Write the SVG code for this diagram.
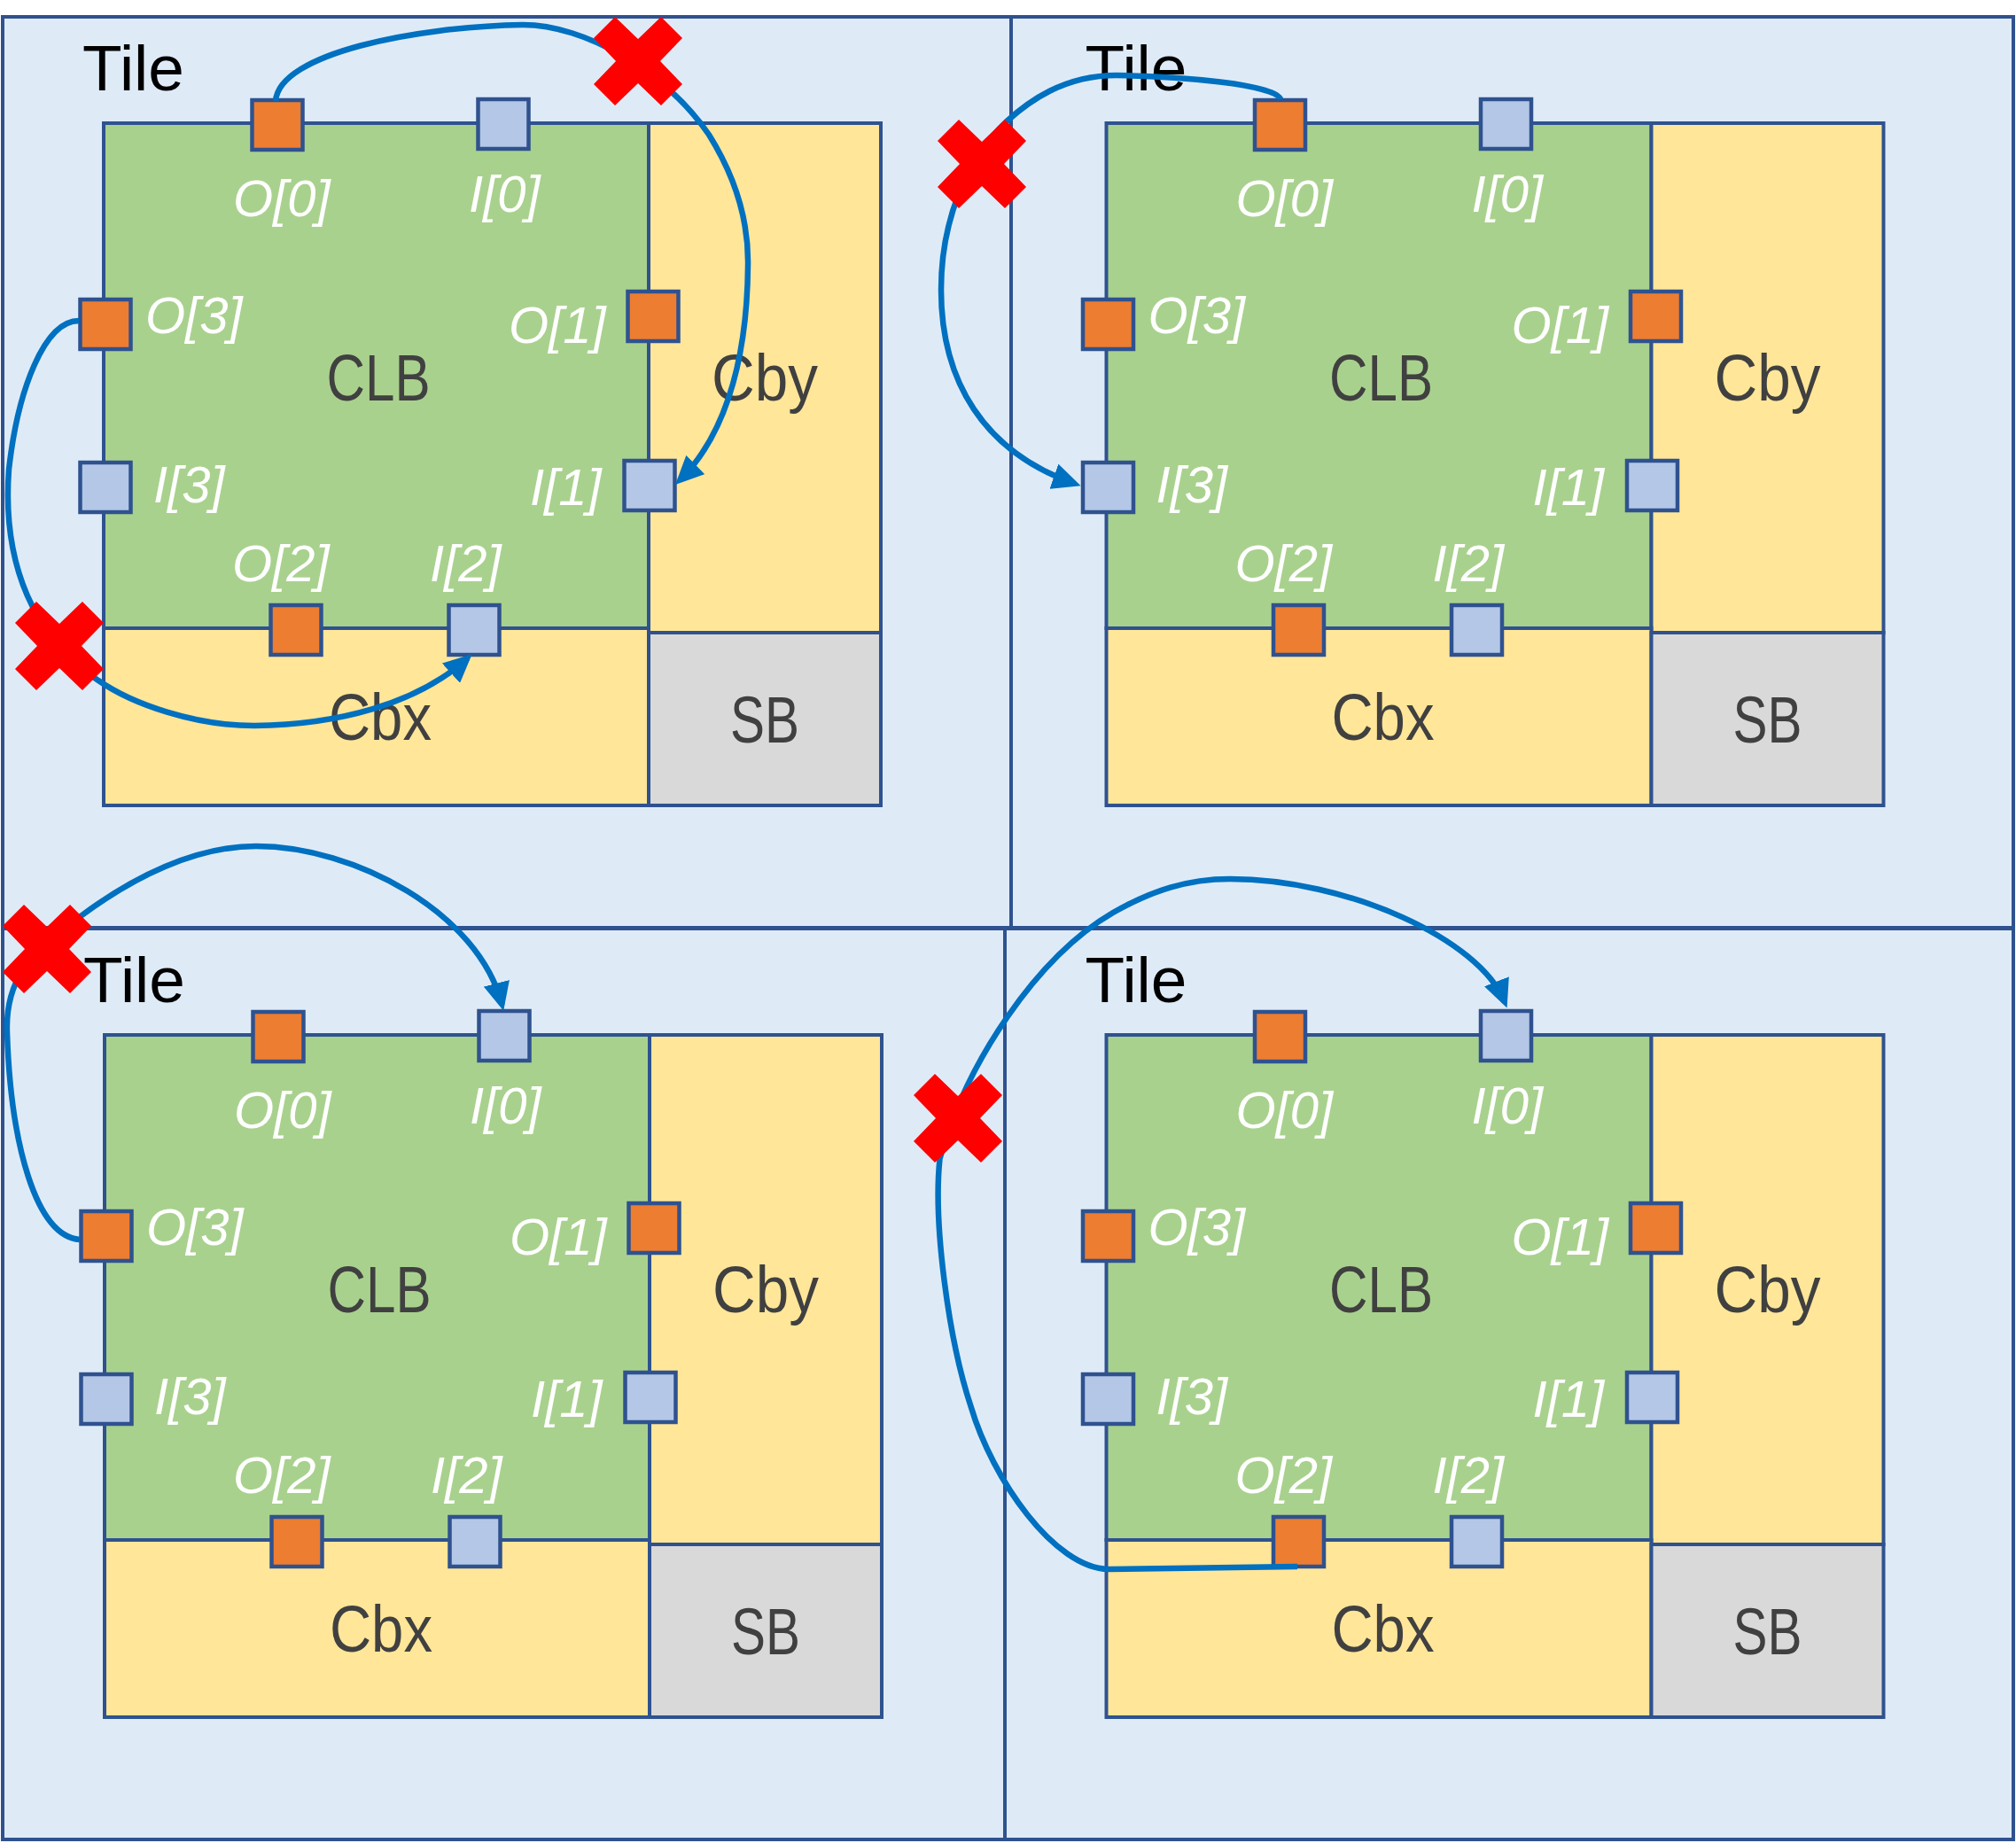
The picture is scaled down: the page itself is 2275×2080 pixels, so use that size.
<svg xmlns="http://www.w3.org/2000/svg" xmlns:xlink="http://www.w3.org/1999/xlink" width="2275" height="2080" viewBox="0 0 2275 2080">
<style>
.tile{fill:#DEEBF7;stroke:#2F528F;stroke-width:4}
.clb{fill:#A9D18E;stroke:#2F528F;stroke-width:4}
.cb{fill:#FFE699;stroke:#2F528F;stroke-width:4}
.sb{fill:#D9D9D9;stroke:#2F528F;stroke-width:4}
.po{fill:#ED7D31;stroke:#2F528F;stroke-width:4.5}
.pi{fill:#B4C7E7;stroke:#2F528F;stroke-width:4.5}
.big{font-family:"Liberation Sans",Arial,sans-serif;font-size:75px;fill:#404040;text-anchor:middle}
.lbl{font-family:"Liberation Sans",Arial,sans-serif;font-size:58px;font-style:italic;fill:#FFFFFF}
.tt{font-family:"Liberation Sans",Arial,sans-serif;font-size:73px;fill:#000000}
.wire{fill:none;stroke:#0070C0;stroke-width:6.5}
.arr{marker-end:url(#ah)}
.xm{fill:#FF0000}
</style>
<defs>
<marker id="ah" viewBox="0 0 32 30" refX="25" refY="15" markerWidth="32" markerHeight="30" markerUnits="userSpaceOnUse" orient="auto">
<path d="M0,0 L32,15 L0,30 z" fill="#0070C0"/>
</marker>
<polygon id="xmark" points="-26,-50 0,-25 26,-50 50,-26 25,0 50,26 26,50 0,25 -26,50 -50,26 -25,0 -50,-26"/>
</defs>

<!-- Tile 1: top-left -->
<g id="tile1">
<rect class="tile" x="3" y="19" width="1138" height="1028"/>
<g transform="translate(0,0)">
<g id="tile1-clb"><rect class="clb" x="117" y="139" width="615" height="570"/><text class="big" x="427" y="452" textLength="117" lengthAdjust="spacingAndGlyphs">CLB</text></g>
<g id="tile1-cby"><rect class="cb" x="732" y="139" width="262" height="575"/><text class="big" x="863" y="452" textLength="120" lengthAdjust="spacingAndGlyphs">Cby</text></g>
<g id="tile1-cbx"><rect class="cb" x="117" y="709" width="615" height="200"/><text class="big" x="429" y="835" textLength="116" lengthAdjust="spacingAndGlyphs">Cbx</text></g>
<g id="tile1-sb"><rect class="sb" x="732" y="714" width="262" height="195"/><text class="big" x="863" y="838" textLength="78" lengthAdjust="spacingAndGlyphs">SB</text></g>
<g id="tile1-o0"><rect class="po" x="284.5" y="113" width="57" height="56"/><text class="lbl" x="263" y="244">O[0]</text></g>
<g id="tile1-i0"><rect class="pi" x="539.5" y="112" width="57" height="56"/><text class="lbl" x="529" y="239">I[0]</text></g>
<g id="tile1-o3"><rect class="po" x="90.5" y="338" width="57" height="56"/><text class="lbl" x="164" y="376">O[3]</text></g>
<g id="tile1-o1"><rect class="po" x="708.5" y="329" width="57" height="56"/><text class="lbl" x="574" y="387">O[1]</text></g>
<g id="tile1-i3"><rect class="pi" x="90.5" y="522" width="57" height="56"/><text class="lbl" x="173" y="567">I[3]</text></g>
<g id="tile1-i1"><rect class="pi" x="704.5" y="520" width="57" height="56"/><text class="lbl" x="598" y="570">I[1]</text></g>
<g id="tile1-o2"><rect class="po" x="305.5" y="683" width="57" height="56"/><text class="lbl" x="262" y="656">O[2]</text></g>
<g id="tile1-i2"><rect class="pi" x="506.5" y="683" width="57" height="56"/><text class="lbl" x="485" y="656">I[2]</text></g>
<text class="tt" x="93" y="102">Tile</text>
</g>
</g>

<!-- Tile 2: top-right -->
<g id="tile2">
<rect class="tile" x="1141" y="19" width="1131" height="1028"/>
<g transform="translate(1131.5,0)">
<g id="tile2-clb"><rect class="clb" x="117" y="139" width="615" height="570"/><text class="big" x="427" y="452" textLength="117" lengthAdjust="spacingAndGlyphs">CLB</text></g>
<g id="tile2-cby"><rect class="cb" x="732" y="139" width="262" height="575"/><text class="big" x="863" y="452" textLength="120" lengthAdjust="spacingAndGlyphs">Cby</text></g>
<g id="tile2-cbx"><rect class="cb" x="117" y="709" width="615" height="200"/><text class="big" x="429" y="835" textLength="116" lengthAdjust="spacingAndGlyphs">Cbx</text></g>
<g id="tile2-sb"><rect class="sb" x="732" y="714" width="262" height="195"/><text class="big" x="863" y="838" textLength="78" lengthAdjust="spacingAndGlyphs">SB</text></g>
<g id="tile2-o0"><rect class="po" x="284.5" y="113" width="57" height="56"/><text class="lbl" x="263" y="244">O[0]</text></g>
<g id="tile2-i0"><rect class="pi" x="539.5" y="112" width="57" height="56"/><text class="lbl" x="529" y="239">I[0]</text></g>
<g id="tile2-o3"><rect class="po" x="90.5" y="338" width="57" height="56"/><text class="lbl" x="164" y="376">O[3]</text></g>
<g id="tile2-o1"><rect class="po" x="708.5" y="329" width="57" height="56"/><text class="lbl" x="574" y="387">O[1]</text></g>
<g id="tile2-i3"><rect class="pi" x="90.5" y="522" width="57" height="56"/><text class="lbl" x="173" y="567">I[3]</text></g>
<g id="tile2-i1"><rect class="pi" x="704.5" y="520" width="57" height="56"/><text class="lbl" x="598" y="570">I[1]</text></g>
<g id="tile2-o2"><rect class="po" x="305.5" y="683" width="57" height="56"/><text class="lbl" x="262" y="656">O[2]</text></g>
<g id="tile2-i2"><rect class="pi" x="506.5" y="683" width="57" height="56"/><text class="lbl" x="485" y="656">I[2]</text></g>
<text class="tt" x="93" y="102">Tile</text>
</g>
</g>

<!-- Tile 3: bottom-left -->
<g id="tile3">
<rect class="tile" x="3" y="1048" width="1131" height="1028"/>
<g transform="translate(1,1029)">
<g id="tile3-clb"><rect class="clb" x="117" y="139" width="615" height="570"/><text class="big" x="427" y="452" textLength="117" lengthAdjust="spacingAndGlyphs">CLB</text></g>
<g id="tile3-cby"><rect class="cb" x="732" y="139" width="262" height="575"/><text class="big" x="863" y="452" textLength="120" lengthAdjust="spacingAndGlyphs">Cby</text></g>
<g id="tile3-cbx"><rect class="cb" x="117" y="709" width="615" height="200"/><text class="big" x="429" y="835" textLength="116" lengthAdjust="spacingAndGlyphs">Cbx</text></g>
<g id="tile3-sb"><rect class="sb" x="732" y="714" width="262" height="195"/><text class="big" x="863" y="838" textLength="78" lengthAdjust="spacingAndGlyphs">SB</text></g>
<g id="tile3-o0"><rect class="po" x="284.5" y="113" width="57" height="56"/><text class="lbl" x="263" y="244">O[0]</text></g>
<g id="tile3-i0"><rect class="pi" x="539.5" y="112" width="57" height="56"/><text class="lbl" x="529" y="239">I[0]</text></g>
<g id="tile3-o3"><rect class="po" x="90.5" y="338" width="57" height="56"/><text class="lbl" x="164" y="376">O[3]</text></g>
<g id="tile3-o1"><rect class="po" x="708.5" y="329" width="57" height="56"/><text class="lbl" x="574" y="387">O[1]</text></g>
<g id="tile3-i3"><rect class="pi" x="90.5" y="522" width="57" height="56"/><text class="lbl" x="173" y="567">I[3]</text></g>
<g id="tile3-i1"><rect class="pi" x="704.5" y="520" width="57" height="56"/><text class="lbl" x="598" y="570">I[1]</text></g>
<g id="tile3-o2"><rect class="po" x="305.5" y="683" width="57" height="56"/><text class="lbl" x="262" y="656">O[2]</text></g>
<g id="tile3-i2"><rect class="pi" x="506.5" y="683" width="57" height="56"/><text class="lbl" x="485" y="656">I[2]</text></g>
<text class="tt" x="93" y="102">Tile</text>
</g>
</g>

<!-- Tile 4: bottom-right -->
<g id="tile4">
<rect class="tile" x="1134" y="1048" width="1138" height="1028"/>
<g transform="translate(1131.5,1029)">
<g id="tile4-clb"><rect class="clb" x="117" y="139" width="615" height="570"/><text class="big" x="427" y="452" textLength="117" lengthAdjust="spacingAndGlyphs">CLB</text></g>
<g id="tile4-cby"><rect class="cb" x="732" y="139" width="262" height="575"/><text class="big" x="863" y="452" textLength="120" lengthAdjust="spacingAndGlyphs">Cby</text></g>
<g id="tile4-cbx"><rect class="cb" x="117" y="709" width="615" height="200"/><text class="big" x="429" y="835" textLength="116" lengthAdjust="spacingAndGlyphs">Cbx</text></g>
<g id="tile4-sb"><rect class="sb" x="732" y="714" width="262" height="195"/><text class="big" x="863" y="838" textLength="78" lengthAdjust="spacingAndGlyphs">SB</text></g>
<g id="tile4-o0"><rect class="po" x="284.5" y="113" width="57" height="56"/><text class="lbl" x="263" y="244">O[0]</text></g>
<g id="tile4-i0"><rect class="pi" x="539.5" y="112" width="57" height="56"/><text class="lbl" x="529" y="239">I[0]</text></g>
<g id="tile4-o3"><rect class="po" x="90.5" y="338" width="57" height="56"/><text class="lbl" x="164" y="376">O[3]</text></g>
<g id="tile4-o1"><rect class="po" x="708.5" y="329" width="57" height="56"/><text class="lbl" x="574" y="387">O[1]</text></g>
<g id="tile4-i3"><rect class="pi" x="90.5" y="522" width="57" height="56"/><text class="lbl" x="173" y="567">I[3]</text></g>
<g id="tile4-i1"><rect class="pi" x="704.5" y="520" width="57" height="56"/><text class="lbl" x="598" y="570">I[1]</text></g>
<g id="tile4-o2"><rect class="po" x="305.5" y="683" width="57" height="56"/><text class="lbl" x="262" y="656">O[2]</text></g>
<g id="tile4-i2"><rect class="pi" x="506.5" y="683" width="57" height="56"/><text class="lbl" x="485" y="656">I[2]</text></g>
<text class="tt" x="93" y="102">Tile</text>
</g>
</g>

<!-- Connectors -->
<g id="connectors">
<path class="wire arr" d="M311,114 C315,60 470,30 590,28 C660,28 750,80 800,152 C830,200 845,250 844,300 C843,420 812,498 767,542"/>
<path class="wire arr" d="M89,362 C50,362 20,440 10,530 C2,640 40,720 111,768 C150,795 220,819 287,819 C380,818 470,795 527.5,743"/>
<path class="wire arr" d="M1445,112 C1440,95 1330,86 1260,85 C1200,85 1160,115 1136,137 C1090,180 1062,250 1062,327 C1062,430 1110,510 1213,546"/>
<path class="wire arr" d="M90,1399 C40,1395 12,1290 8,1165 C6,1110 30,1075 91,1034 C150,990 220,955 289,955 C400,955 540,1030 566.5,1134"/>
<path class="wire arr" d="M1464,1768 L1251,1771 C1190,1770 1120,1670 1095.5,1587 C1070,1510 1053,1380 1060.5,1308 C1090,1200 1170,1080 1256,1030 C1300,1005 1340,992 1388,992 C1520,992 1670,1060 1698,1131"/>
</g>

<!-- Break marks -->
<g id="breaks" class="xm">
<use xlink:href="#xmark" href="#xmark" x="720" y="69"/>
<use xlink:href="#xmark" href="#xmark" x="67" y="729"/>
<use xlink:href="#xmark" href="#xmark" x="1108" y="185"/>
<use xlink:href="#xmark" href="#xmark" x="53" y="1071"/>
<use xlink:href="#xmark" href="#xmark" x="1081" y="1262"/>
</g>
</svg>
